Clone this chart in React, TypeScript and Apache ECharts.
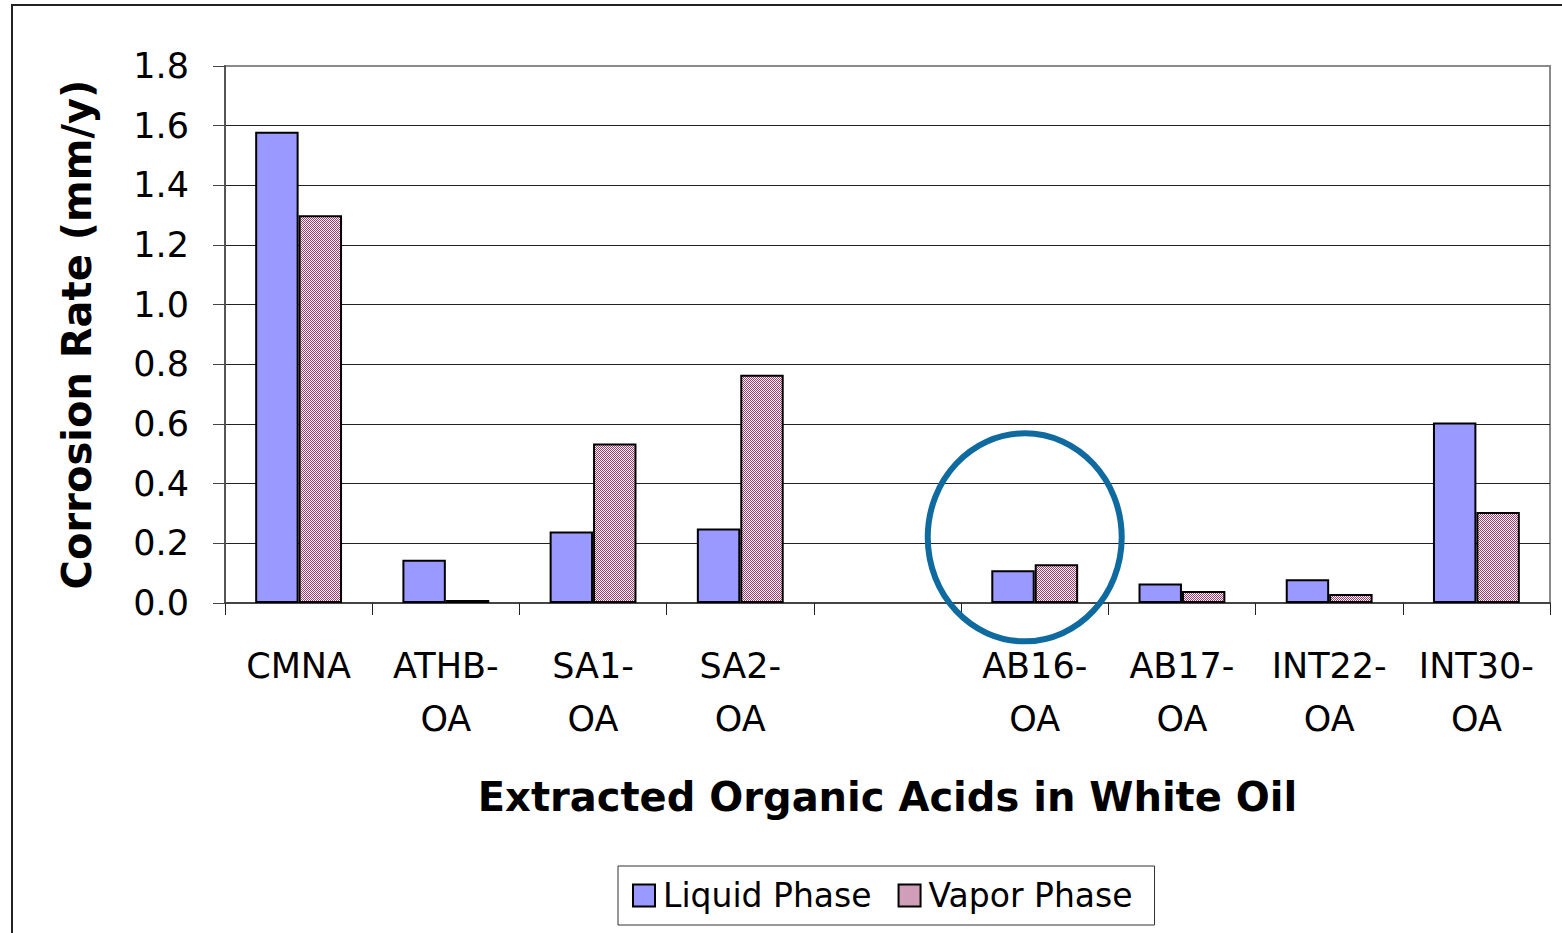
import React, { useEffect, useRef } from "react";
import * as echarts from "echarts";

const categories = ["CMNA", "ATHB-\nOA", "SA1-\nOA", "SA2-\nOA", "", "AB16-\nOA", "AB17-\nOA", "INT22-\nOA", "INT30-\nOA"];
const liquidPhase = [1.58, 0.145, 0.24, 0.25, null, 0.11, 0.065, 0.08, 0.605];
const vaporPhase = [1.3, 0.01, 0.535, 0.765, null, 0.13, 0.04, 0.03, 0.305];
const yTicks = { min: 0, max: 1.8, interval: 0.2 };
const highlightCategory = "AB16-\nOA";
const highlightValue = 0.22;

const FONT = "'DejaVu Sans', 'Liberation Sans', Arial, sans-serif";

function makePattern(): HTMLCanvasElement {
  const c = document.createElement("canvas");
  c.width = 4;
  c.height = 4;
  const ctx = c.getContext("2d")!;
  ctx.fillStyle = "#ffffff";
  ctx.fillRect(0, 0, 4, 4);
  ctx.fillStyle = "#a23d70";
  for (let x = 0; x < 4; x++) {
    for (let y = 0; y < 4; y++) {
      if ((x + y) % 2 === 0) ctx.fillRect(x, y, 1, 1);
    }
  }
  return c;
}

export default function App() {
  const ref = useRef<HTMLDivElement>(null);
  useEffect(() => {
    if (!ref.current) return;
    const chart = echarts.init(ref.current, null, { renderer: "svg" });
    const pattern = makePattern();
    chart.setOption({
      animation: false,
      backgroundColor: "#ffffff",
      grid: {
        left: 225,
        right: 12,
        top: 66,
        bottom: 330,
        show: true,
        borderColor: "#8a8a8a",
        borderWidth: 2,
        backgroundColor: "transparent",
      },
      legend: {
        left: 618,
        top: 866,
        orient: "horizontal",
        icon: "rect",
        itemWidth: 22,
        itemHeight: 22,
        itemGap: 26,
        padding: [13, 22, 13, 14],
        borderColor: "#333",
        borderWidth: 1,
        textStyle: { fontFamily: FONT, fontSize: 33, color: "#000", padding: [0, 0, 0, 3] },
        data: ["Liquid Phase", "Vapor Phase"],
      },
      xAxis: {
        type: "category",
        data: categories,
        name: "Extracted Organic Acids in White Oil",
        nameLocation: "middle",
        nameGap: 174,
        nameTextStyle: { fontFamily: FONT, fontSize: 40, fontWeight: "bold", color: "#000", verticalAlign: "top" },
        axisLine: { show: true, lineStyle: { color: "#444", width: 2 } },
        axisTick: { show: true, length: 12, lineStyle: { color: "#222", width: 1 } },
        axisLabel: {
          interval: 0,
          margin: 36,
          fontFamily: FONT,
          fontSize: 35,
          lineHeight: 53,
          color: "#000",
        },
      },
      yAxis: {
        type: "value",
        min: yTicks.min,
        max: yTicks.max,
        interval: yTicks.interval,
        name: "Corrosion Rate (mm/y)",
        nameLocation: "middle",
        nameGap: 148,
        nameRotate: 90,
        nameTextStyle: { fontFamily: FONT, fontSize: 40, fontWeight: "bold", color: "#000", verticalAlign: "middle" },
        axisLine: { show: true, lineStyle: { color: "#555", width: 2 } },
        axisTick: { show: true, length: 12, lineStyle: { color: "#444", width: 1 } },
        axisLabel: {
          margin: 36,
          fontFamily: FONT,
          fontSize: 35,
          color: "#000",
          formatter: (v: number) => v.toFixed(1),
        },
        splitLine: { show: true, showMaxLine: false, lineStyle: { color: "#222", width: 1 } },
      },
      series: [
        {
          name: "Liquid Phase",
          type: "bar",
          data: liquidPhase,
          barGap: "0%",
          barCategoryGap: "41%",
          itemStyle: { color: "#9999ff", borderColor: "#000", borderWidth: 2 },
        },
        {
          name: "Vapor Phase",
          type: "bar",
          data: vaporPhase,
          barGap: "0%",
          barCategoryGap: "41%",
          itemStyle: {
            color: { image: pattern, repeat: "repeat", imageWidth: 4, imageHeight: 4 },
            borderColor: "#000",
            borderWidth: 2,
          },
        },
      ],
    });
    const p = chart.convertToPixel({ xAxisIndex: 0, yAxisIndex: 0 }, [highlightCategory, highlightValue]) as number[];
    chart.setOption({
      graphic: [
        {
          type: "rect",
          silent: true,
          shape: { x: 12, y: 5, width: 1700, height: 1100 },
          style: { fill: "none", stroke: "#222", lineWidth: 2 },
        },
        {
          type: "ellipse",
          silent: true,
          shape: { cx: p[0] - 10, cy: p[1], rx: 97, ry: 104 },
          style: { fill: "none", stroke: "#0f6aa0", lineWidth: 6 },
          z: 100,
        },
      ],
    });
    return () => chart.dispose();
  }, []);
  return <div ref={ref} style={{ position: "absolute", left: 0, top: 0, width: 1562, height: 933 }} />;
}
